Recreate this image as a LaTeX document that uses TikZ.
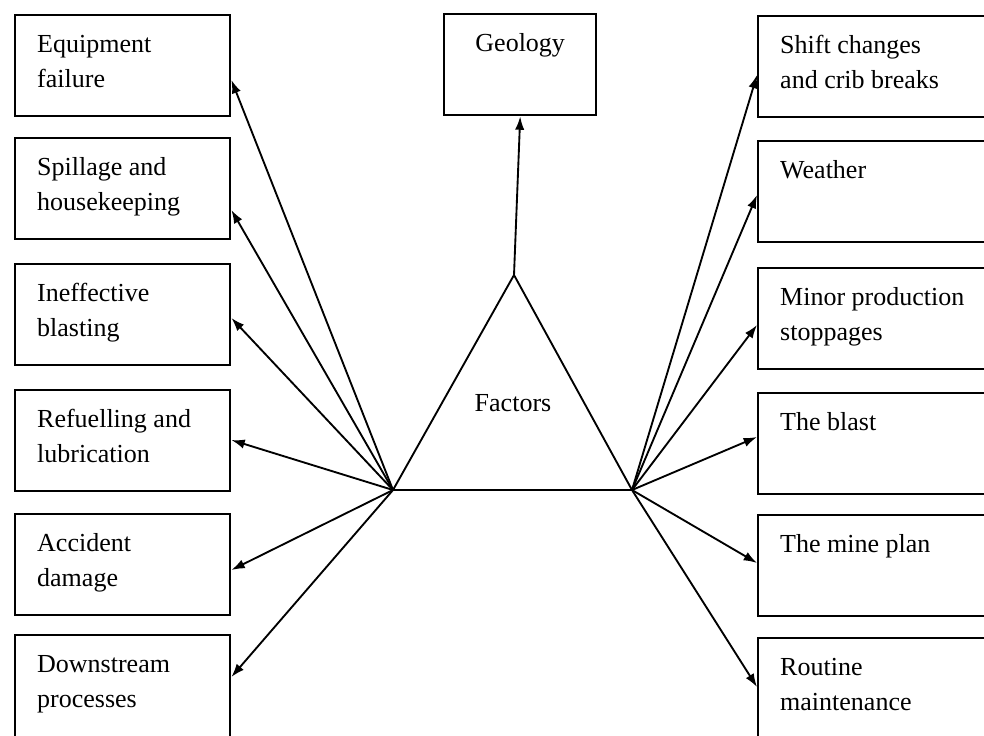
\documentclass[tikz,border=0pt]{standalone}
\usepackage{fontspec}
\setmainfont{Liberation Serif}
\usetikzlibrary{arrows.meta,calc}

\begin{document}
\begin{tikzpicture}[x=0.75pt,y=-0.75pt]
\useasboundingbox (0,0) rectangle (984,735);
\tikzstyle{every node}+=[inner sep=0pt, font=\fontsize{19.5}{26.25}\selectfont]
\tikzstyle{factor}=[draw, line width=1.8pt, anchor=north west, align=flush left, inner xsep=16.5pt, text width=128.25pt, text height=27.75pt, text depth=48pt]
\tikzstyle{factorR}=[factor, text width=162pt]
\tikzstyle{link}=[line width=1.4pt, -{Latex[length=10pt,width=7pt]}]
% left column
\node [factor] (equip) at (14,14) {Equipment\\failure};
\node [factor] (spill) at (14,137) {Spillage and\\housekeeping};
\node [factor] (blasting) at (14,263) {Ineffective\\blasting};
\node [factor] (fuel) at (14,389) {Refuelling and\\lubrication};
\node [factor] (accident) at (14,513) {Accident\\damage};
\node [factor, text depth=62pt] (down) at (14,634) {Downstream\\processes};
% middle
\node [factor, align=center, text width=81pt, minimum width=114pt] (geology) at (443,13) {Geology};
% right column
\node [factorR] (shift) at (757,15) {Shift changes\\and crib breaks};
\node [factorR] (weather) at (757,140) {Weather};
\node [factorR] (minor) at (757,267) {Minor production\\stoppages};
\node [factorR] (blast) at (757,392) {The blast};
\node [factorR] (mine) at (757,514) {The mine plan};
\node [factorR, text depth=62pt] (routine) at (757,637) {Routine\\maintenance};
% triangle
\coordinate (apex) at (514,275);
\coordinate (lv) at (393,490);
\coordinate (rv) at (632,490);
\draw [line width=1.4pt] (apex) -- (lv) -- (rv) -- cycle;
\node (factors) at (513,403) {Factors};
\draw [link] (apex) -- (geology.south);
\draw [link] (lv) -- ($(equip.north east)+(0,66)$);
\draw [link] (lv) -- ($(spill.north east)+(0,73)$);
\draw [link] (lv) -- ($(blasting.north east)+(0,55)$);
\draw [link] (lv) -- ($(fuel.north east)+(0,51)$);
\draw [link] (lv) -- ($(accident.north east)+(0,57)$);
\draw [link] (lv) -- ($(down.north east)+(0,43)$);
\draw [link] (rv) -- ($(shift.north west)+(0,60)$);
\draw [link] (rv) -- ($(weather.north west)+(0,55)$);
\draw [link] (rv) -- ($(minor.north west)+(0,58)$);
\draw [link] (rv) -- ($(blast.north west)+(0,45)$);
\draw [link] (rv) -- ($(mine.north west)+(0,49)$);
\draw [link] (rv) -- ($(routine.north west)+(0,50)$);
\end{tikzpicture}
\end{document}
